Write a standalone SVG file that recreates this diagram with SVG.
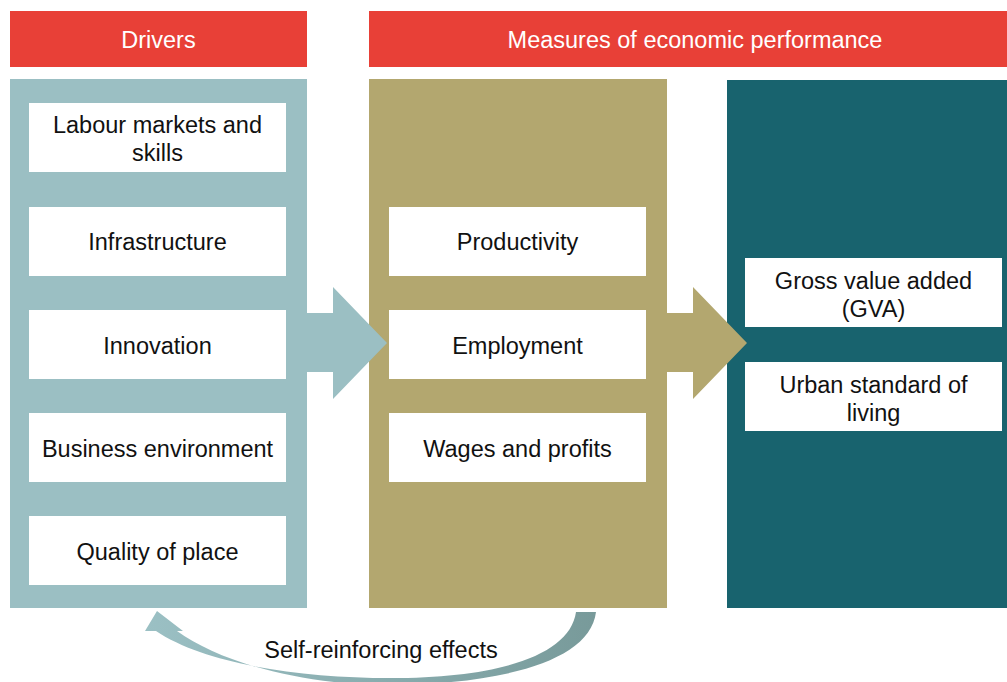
<svg xmlns="http://www.w3.org/2000/svg" width="1007" height="682" viewBox="0 0 1007 682">
<style>
text{font-family:"Liberation Sans",Arial,sans-serif;font-size:23.5px;text-anchor:middle;fill:#111}
.hdr{fill:#E84037}
.hdrt{fill:#fff}
.box{fill:#fff}
</style>
<defs>
<linearGradient id="loopg" x1="596" y1="0" x2="145" y2="0" gradientUnits="userSpaceOnUse">
<stop offset="0" stop-color="#789A9A"/>
<stop offset="1" stop-color="#9BC0C4"/>
</linearGradient>
</defs>
<rect width="1007" height="682" fill="#fff"/>
<g id="header-drivers">
<rect class="hdr" x="10" y="11" width="297" height="56"/>
<text class="hdrt" x="158.5" y="48">Drivers</text>
</g>
<g id="header-measures">
<rect class="hdr" x="369" y="11" width="638" height="56"/>
<text class="hdrt" x="695" y="48">Measures of economic performance</text>
</g>
<g id="panel-drivers"><rect x="10" y="79" width="297" height="529" fill="#9BBFC3"/></g>
<g id="panel-measures"><rect x="369" y="79" width="298" height="529" fill="#B3A76F"/></g>
<g id="panel-outcomes"><rect x="727" y="80" width="280" height="528" fill="#18636E"/></g>
<g id="connectors">
<polygon points="305,313 333,313 333,287 387,343 333,399 333,372 305,372" fill="#9BBFC3"/>
<polygon points="665,313 693,313 693,287 747,343 693,399 693,372 665,372" fill="#B3A76F"/>
<path d="M596,612 C590,662 500,684 390,685 C300,685 220,662 177,631 L183,631 L157,611 L145,631 L156,631 C205,664 300,678 390,678 C500,678 570,655 576,612 Z" fill="url(#loopg)"/>
</g>
<g id="label-self-reinforcing"><text x="381" y="657.5">Self-reinforcing effects</text></g>
<g id="node-labour"><rect class="box" x="29" y="103" width="257" height="69"/><text x="157.5" y="133">Labour markets and</text><text x="157.5" y="161">skills</text></g>
<g id="node-infrastructure"><rect class="box" x="29" y="207" width="257" height="69"/><text x="157.5" y="250">Infrastructure</text></g>
<g id="node-innovation"><rect class="box" x="29" y="310" width="257" height="69"/><text x="157.5" y="353.5">Innovation</text></g>
<g id="node-business"><rect class="box" x="29" y="413" width="257" height="69"/><text x="157.5" y="456.5">Business environment</text></g>
<g id="node-quality"><rect class="box" x="29" y="516" width="257" height="69"/><text x="157.5" y="559.5">Quality of place</text></g>
<g id="node-productivity"><rect class="box" x="389" y="207" width="257" height="69"/><text x="517.5" y="250">Productivity</text></g>
<g id="node-employment"><rect class="box" x="389" y="310" width="257" height="69"/><text x="517.5" y="353.5">Employment</text></g>
<g id="node-wages"><rect class="box" x="389" y="413" width="257" height="69"/><text x="517.5" y="456.5">Wages and profits</text></g>
<g id="node-gva"><rect class="box" x="745" y="258" width="257" height="69"/><text x="873.5" y="288.5">Gross value added</text><text x="873.5" y="316.5">(GVA)</text></g>
<g id="node-living"><rect class="box" x="745" y="362" width="257" height="69"/><text x="873.5" y="392.5">Urban standard of</text><text x="873.5" y="420.5">living</text></g>
</svg>
